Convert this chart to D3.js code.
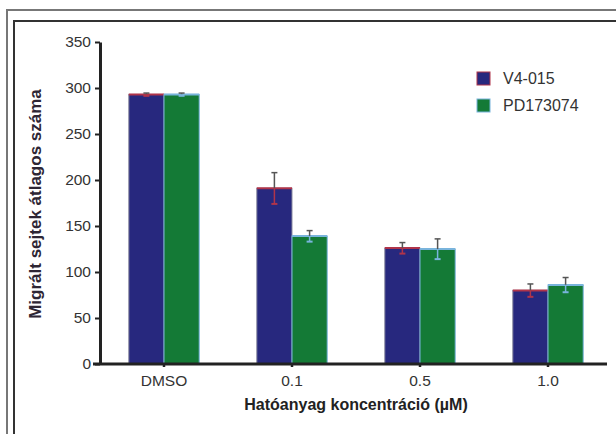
<!DOCTYPE html>
<html>
<head>
    <meta charset="utf-8">
    <title>Migrált sejtek</title>
    <script src="https://cdn.jsdelivr.net/npm/d3@7"></script>
    <style>
        body { margin: 0; padding: 0; background: #fff; }
        svg text { font-family: "Liberation Sans", Arial, sans-serif; }
    </style>
</head>
<body>
    <div id="chart"></div>
    <script>
        // data
        const categories = ["DMSO", "0.1", "0.5", "1.0"];
        const seriesNames = ["V4-015", "PD173074"];
        const v4Values = [293, 191, 126, 80];
        const v4Errors = [1.5, 17, 6, 7];
        const pdValues = [293, 139, 125, 86];
        const pdErrors = [1.5, 6, 11, 8];
        const yTicks = [0, 50, 100, 150, 200, 250, 300, 350];

        const fills = ["#27287e", "#147a36"];
        const edges = ["#b0344a", "#79b4dc"];

        const W = 616, H = 434;
        const svg = d3.select("#chart").append("svg")
            .attr("width", W).attr("height", H);

        // double frame around the figure
        svg.append("rect").attr("x", 7).attr("y", 10)
            .attr("width", W).attr("height", H)
            .attr("fill", "none").attr("stroke", "#777").attr("stroke-width", 2);
        svg.append("rect").attr("x", 14).attr("y", 21)
            .attr("width", W).attr("height", H)
            .attr("fill", "none").attr("stroke", "#333").attr("stroke-width", 2);

        const y = d3.scaleLinear().domain([0, 350]).range([364, 42]);
        const x = d3.scaleBand().domain(categories).range([100, 612])
            .paddingInner(0.45).paddingOuter(0.225);
        const xs = d3.scaleBand().domain(seriesNames).range([0, x.bandwidth()]);

        const rows = categories.map((c, i) => ({
            cat: c,
            vals: [
                { s: 0, v: v4Values[i], e: v4Errors[i] },
                { s: 1, v: pdValues[i], e: pdErrors[i] }
            ]
        }));

        const groups = svg.selectAll(".grp").data(rows).enter().append("g")
            .attr("class", "grp")
            .attr("transform", d => `translate(${x(d.cat)},0)`);

        const bars = groups.selectAll(".bar").data(d => d.vals).enter().append("g");

        bars.append("rect")
            .attr("x", d => xs(seriesNames[d.s]))
            .attr("y", d => y(d.v))
            .attr("width", xs.bandwidth())
            .attr("height", d => y(0) - y(d.v))
            .attr("fill", d => fills[d.s])
            .attr("stroke", d => d.s === 0 ? "#8a8aa0" : edges[1])
            .attr("stroke-width", 1);

        // coloured top edge
        bars.append("line")
            .attr("x1", d => xs(seriesNames[d.s]))
            .attr("x2", d => xs(seriesNames[d.s]) + xs.bandwidth())
            .attr("y1", d => y(d.v)).attr("y2", d => y(d.v))
            .attr("stroke", d => edges[d.s]).attr("stroke-width", 2);

        // error bars: upper whisker gray, lower whisker in edge colour
        const cx = d => xs(seriesNames[d.s]) + xs.bandwidth() / 2;
        bars.append("line")
            .attr("x1", cx).attr("x2", cx)
            .attr("y1", d => y(d.v)).attr("y2", d => y(d.v + d.e))
            .attr("stroke", "#555").attr("stroke-width", 1.5);
        bars.append("line")
            .attr("x1", d => cx(d) - 3).attr("x2", d => cx(d) + 3)
            .attr("y1", d => y(d.v + d.e)).attr("y2", d => y(d.v + d.e))
            .attr("stroke", "#555").attr("stroke-width", 1.5);
        bars.append("line")
            .attr("x1", cx).attr("x2", cx)
            .attr("y1", d => y(d.v)).attr("y2", d => y(d.v - d.e))
            .attr("stroke", d => edges[d.s]).attr("stroke-width", 1.5);
        bars.append("line")
            .attr("x1", d => cx(d) - 3).attr("x2", d => cx(d) + 3)
            .attr("y1", d => y(d.v - d.e)).attr("y2", d => y(d.v - d.e))
            .attr("stroke", d => edges[d.s]).attr("stroke-width", 2);

        // y axis
        const yAxis = svg.append("g")
            .attr("transform", "translate(100,0)")
            .call(d3.axisLeft(y).tickValues(yTicks).tickSize(5).tickSizeOuter(0).tickPadding(4));
        yAxis.select(".domain").attr("stroke", "#222").attr("stroke-width", 3);
        yAxis.selectAll(".tick line").attr("stroke", "#222").attr("stroke-width", 2);
        yAxis.selectAll(".tick text")
            .attr("font-size", 15.5).attr("fill", "#333")
            .style("font-family", "'Liberation Sans', Arial, sans-serif");

        // x axis
        const xAxis = svg.append("g")
            .attr("transform", `translate(0,${y(0)})`)
            .call(d3.axisBottom(x).tickSize(3).tickSizeOuter(0).tickPadding(8));
        xAxis.select(".domain").remove();
        xAxis.append("line")
            .attr("x1", 93).attr("x2", 607)
            .attr("stroke", "#222").attr("stroke-width", 3);
        xAxis.selectAll(".tick line").attr("stroke", "#222").attr("stroke-width", 2.5);
        xAxis.selectAll(".tick text")
            .attr("font-size", 15.5).attr("fill", "#333")
            .style("font-family", "'Liberation Sans', Arial, sans-serif");

        // axis titles
        svg.append("text")
            .attr("x", 356).attr("y", 410)
            .attr("text-anchor", "middle")
            .attr("font-size", 16).attr("font-weight", "bold").attr("fill", "#222")
            .text("Hatóanyag koncentráció (µM)");

        svg.append("text")
            .attr("transform", "translate(41,204) rotate(-90)")
            .attr("text-anchor", "middle")
            .attr("font-size", 17).attr("font-weight", "bold").attr("fill", "#2e2634")
            .text("Migrált sejtek átlagos száma");

        // legend
        const legend = svg.selectAll(".leg").data(seriesNames).enter().append("g")
            .attr("transform", (d, i) => `translate(477,${72 + i * 27})`);
        legend.append("rect")
            .attr("width", 13).attr("height", 13)
            .attr("fill", (d, i) => fills[i])
            .attr("stroke", (d, i) => edges[i]).attr("stroke-width", 1);
        legend.append("text")
            .attr("x", 26).attr("y", 12)
            .attr("font-size", 16).attr("fill", "#333")
            .text(d => d);
    </script>
</body>
</html>
